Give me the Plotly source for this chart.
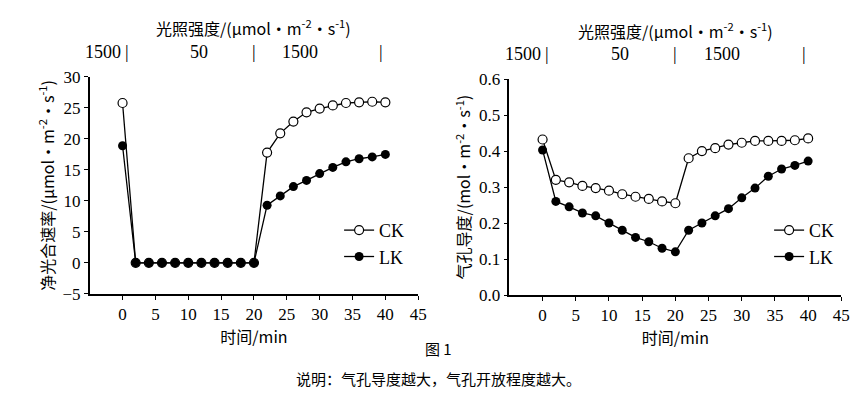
import plotly.graph_objects as go

t = list(range(0, 41, 2))

pn_ck = [25.8, 0, 0, 0, 0, 0, 0, 0, 0, 0, 0,
         17.8, 20.9, 22.8, 24.3, 24.9, 25.4, 25.8, 25.9, 26.0, 25.9]
pn_lk = [18.9, 0, 0, 0, 0, 0, 0, 0, 0, 0, 0,
         9.3, 10.8, 12.3, 13.3, 14.4, 15.4, 16.3, 16.8, 17.1, 17.5]
gs_ck = [0.432, 0.320, 0.313, 0.303, 0.297, 0.290, 0.280, 0.273, 0.267, 0.260, 0.255,
         0.380, 0.400, 0.408, 0.418, 0.423, 0.428, 0.428, 0.428, 0.430, 0.435]
gs_lk = [0.403, 0.260, 0.245, 0.228, 0.220, 0.200, 0.180, 0.160, 0.148, 0.130, 0.120,
         0.180, 0.200, 0.220, 0.240, 0.270, 0.297, 0.330, 0.350, 0.360, 0.372]

x_ticks = [0, 5, 10, 15, 20, 25, 30, 35, 40, 45]
light_labels = ["1500", "|", "50", "|", "1500", "|"]
light_pos = [-6, 0, 10, 20, 30, 40]
X_MIN, X_MAX = -5, 45

SERIF = "Liberation Serif"
CJK = "Noto Sans CJK SC"

fig = go.Figure()


def add_pair(ck, lk, xa, ya, legend):
    fig.add_scatter(x=t, y=ck, name="CK", xaxis=xa, yaxis=ya, legend=legend,
                    mode="lines+markers", line={"color": "black", "width": 1.3},
                    marker={"size": 9, "color": "white", "line": {"color": "black", "width": 1.2}})
    fig.add_scatter(x=t, y=lk, name="LK", xaxis=xa, yaxis=ya, legend=legend,
                    mode="lines+markers", line={"color": "black", "width": 1.3},
                    marker={"size": 9, "color": "black"})


add_pair(pn_ck, pn_lk, "x", "y", "legend")
add_pair(gs_ck, gs_lk, "x2", "y2", "legend2")

axis_common = dict(showline=True, linecolor="black", linewidth=1.5, ticks="outside",
                   ticklen=4, tickcolor="black", showgrid=False, zeroline=False,
                   tickfont={"family": SERIF, "size": 17, "color": "black"})

fig.update_layout(
    xaxis=dict(domain=[0.095, 0.477], range=[X_MIN, X_MAX], tickvals=x_ticks, anchor="y",
               title={"text": "时间/min", "font": {"family": CJK, "size": 16}, "standoff": 0},
               **axis_common),
    yaxis=dict(domain=[0.308, 0.833], range=[-5, 30], dtick=5, anchor="x",
               title={"text": "净光合速率/(μmol·m<sup>-2</sup>·s<sup>-1</sup>)",
                      "font": {"family": CJK, "size": 16}, "standoff": 4},
               **axis_common),
    xaxis2=dict(domain=[0.583, 0.969], range=[X_MIN, X_MAX], tickvals=x_ticks, anchor="y2",
                title={"text": "时间/min", "font": {"family": CJK, "size": 16}, "standoff": 0},
                **axis_common),
    yaxis2=dict(domain=[0.305, 0.828], range=[0, 0.6], dtick=0.1, tickformat=".1f", anchor="x2",
                title={"text": "气孔导度/(mol·m<sup>-2</sup>·s<sup>-1</sup>)",
                       "font": {"family": CJK, "size": 16}, "standoff": 4},
                **axis_common),
    legend=dict(x=0.385, y=0.43, xanchor="left", yanchor="middle", bgcolor="rgba(0,0,0,0)",
                font={"family": SERIF, "size": 18}, tracegroupgap=0, itemwidth=30),
    legend2=dict(x=0.885, y=0.43, xanchor="left", yanchor="middle", bgcolor="rgba(0,0,0,0)",
                 font={"family": SERIF, "size": 18}, tracegroupgap=0, itemwidth=30),
    paper_bgcolor="white", plot_bgcolor="white",
    width=860, height=413, margin={"l": 0, "r": 0, "t": 0, "b": 0, "autoexpand": False},
    font={"color": "black"},
)

for xr, yr in (("x domain", "y domain"), ("x2 domain", "y2 domain")):
    fig.add_annotation(x=0.5, y=1.226, xref=xr, yref=yr, showarrow=False, yanchor="middle",
                       text="光照强度/(μmol·m<sup>-2</sup>·s<sup>-1</sup>)",
                       font={"family": CJK, "size": 16, "color": "black"})
    for lab, pos in zip(light_labels, light_pos):
        fig.add_annotation(x=(pos - X_MIN) / (X_MAX - X_MIN), y=1.115, xref=xr, yref=yr,
                           showarrow=False, yanchor="middle", text=lab,
                           font={"family": SERIF, "size": 18, "color": "black"})

fig.add_annotation(x=0.5, y=1 - 353 / 413, xref="paper", yref="paper", showarrow=False,
                   text="图 1", font={"family": CJK, "size": 15, "color": "black"})
fig.add_annotation(x=0.5, y=1 - 383 / 413, xref="paper", yref="paper", showarrow=False,
                   text="说明：气孔导度越大，气孔开放程度越大。",
                   font={"family": CJK, "size": 15, "color": "black"})

fig.write_html("out.html")
